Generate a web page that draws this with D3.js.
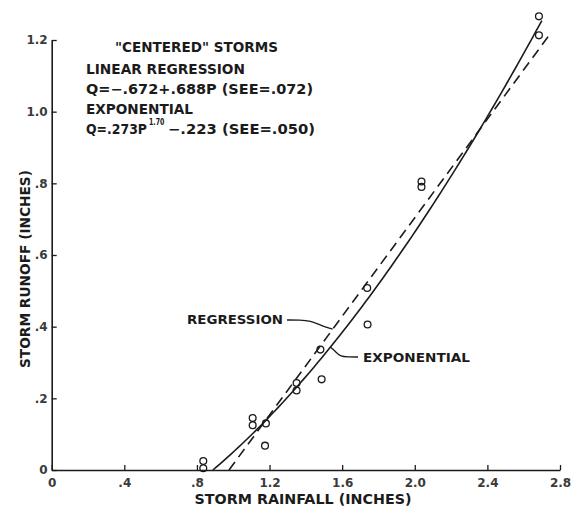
<!DOCTYPE html>
<html><head><meta charset="utf-8">
<script src="https://cdn.jsdelivr.net/npm/d3@7"></script>
<style>html,body{margin:0;padding:0;background:#fff}</style>
</head><body><svg id="chart" width="571" height="506"></svg>
<script>
// Observed storms: rainfall P and runoff Q, inches
const rainfall = [0.835, 0.835, 1.107, 1.107, 1.18, 1.175, 1.349, 1.349, 1.487, 1.48, 1.74, 1.738, 2.037, 2.037, 2.684, 2.684];
const runoff   = [0.005, 0.025, 0.125, 0.145, 0.13, 0.068, 0.222, 0.243, 0.253, 0.336, 0.406, 0.508, 0.79, 0.805, 1.213, 1.266];

const xTicks = [0, 0.4, 0.8, 1.2, 1.6, 2.0, 2.4, 2.8];
const xTickLabels = ["0", ".4", ".8", "1.2", "1.6", "2.0", "2.4", "2.8"];
const yTicks = [0, 0.2, 0.4, 0.6, 0.8, 1.0, 1.2];
const yTickLabels = ["0", ".2", ".4", ".6", ".8", "1.0", "1.2"];

// Fitted relations: Q = a + bP  and  Q = cP^k + d
const linearFit = { a: -0.672, b: 0.688, pEnd: 2.75 };
const expFit = { c: 0.273, k: 1.70, d: -0.223, pEnd: 2.70 };

const ink = "#1b1b1b";
const letterFont = "'DejaVu Sans', sans-serif";

const svg = d3.select("#chart");
svg.append("rect").attr("width", 571).attr("height", 506).attr("fill", "#fff");

const x = d3.scaleLinear().domain([0, 2.8]).range([51.7, 560]);
const y = d3.scaleLinear().domain([0, 1.2]).range([470, 40]);

// Axes with inward ticks
const xAxis = svg.append("g").attr("transform", `translate(0,${y(0)})`)
  .call(d3.axisBottom(x).tickValues(xTicks).tickSize(-5).tickSizeOuter(0).tickPadding(8)
    .tickFormat((d, i) => xTickLabels[i]));
const yAxis = svg.append("g").attr("transform", `translate(${x(0)},0)`)
  .call(d3.axisLeft(y).tickValues(yTicks).tickSize(-5).tickSizeOuter(0).tickPadding(4)
    .tickFormat((d, i) => yTickLabels[i]));
[xAxis, yAxis].forEach(g => {
  g.select(".domain").attr("stroke", ink).attr("stroke-width", 1.6);
  g.selectAll(".tick line").attr("stroke", ink).attr("stroke-width", 1.3);
  g.selectAll(".tick text").attr("fill", "#3a3a3a").attr("font-family", letterFont)
    .attr("font-size", 12).attr("font-weight", "bold");
});

// Axis titles
svg.append("text").attr("x", 303).attr("y", 504).attr("text-anchor", "middle")
  .attr("font-family", letterFont).attr("font-size", 13.5).attr("font-weight", "bold")
  .attr("fill", ink).attr("textLength", 217).attr("lengthAdjust", "spacingAndGlyphs")
  .text("STORM RAINFALL (INCHES)");
svg.append("text").attr("transform", "translate(30,269) rotate(-90)").attr("text-anchor", "middle")
  .attr("font-family", letterFont).attr("font-size", 13.5).attr("font-weight", "bold")
  .attr("fill", ink).attr("textLength", 198).attr("lengthAdjust", "spacingAndGlyphs")
  .text("STORM RUNOFF (INCHES)");

// Fitted curves
const linQ = p => linearFit.a + linearFit.b * p;
const expQ = p => expFit.c * Math.pow(p, expFit.k) + expFit.d;
const linStart = -linearFit.a / linearFit.b;
const expStart = Math.pow(-expFit.d / expFit.c, 1 / expFit.k);

const line = d3.line().x(d => x(d[0])).y(d => y(d[1]));
svg.append("path")
  .attr("d", line([linStart, linearFit.pEnd].map(p => [p, linQ(p)])))
  .attr("fill", "none").attr("stroke", ink).attr("stroke-width", 1.6)
  .attr("stroke-dasharray", "10,6");
const expPs = d3.range(expStart, expFit.pEnd, 0.02).concat([expFit.pEnd]);
svg.append("path")
  .attr("d", line(expPs.map(p => [p, expQ(p)])))
  .attr("fill", "none").attr("stroke", ink).attr("stroke-width", 1.6);

// Observations
svg.append("g").selectAll("circle").data(rainfall).join("circle")
  .attr("cx", d => x(d)).attr("cy", (d, i) => y(runoff[i])).attr("r", 3.4)
  .attr("fill", "none").attr("stroke", ink).attr("stroke-width", 1.3);

// Curve labels with leaders
const labelStyle = sel => sel.attr("font-family", letterFont).attr("font-size", 12.5)
  .attr("font-weight", "bold").attr("fill", ink).attr("lengthAdjust", "spacingAndGlyphs");
svg.append("text").attr("x", 187).attr("y", 324).attr("textLength", 96).call(labelStyle).text("REGRESSION");
svg.append("text").attr("x", 363).attr("y", 361.5).attr("textLength", 107).call(labelStyle).text("EXPONENTIAL");

const regAnchor = 1.548, expAnchor = 1.535;
const leader = d3.line().curve(d3.curveBasis);
svg.append("path")
  .attr("d", leader([[287, 320], [300, 320], [310, 320.5], [322, 326], [x(regAnchor), y(linQ(regAnchor))]]))
  .attr("fill", "none").attr("stroke", ink).attr("stroke-width", 1.3);
svg.append("path")
  .attr("d", leader([[358, 357], [348, 357], [340, 356.5], [335, 351], [x(expAnchor), y(expQ(expAnchor))]]))
  .attr("fill", "none").attr("stroke", ink).attr("stroke-width", 1.3);

// Legend block
const note = svg.append("g").attr("font-family", letterFont).attr("font-weight", "bold")
  .attr("font-size", 13.5).attr("fill", ink);
note.append("text").attr("x", 115).attr("y", 52).attr("textLength", 163)
  .attr("lengthAdjust", "spacingAndGlyphs").text("\"CENTERED\" STORMS");
note.append("text").attr("x", 86).attr("y", 74).attr("textLength", 159)
  .attr("lengthAdjust", "spacingAndGlyphs").text("LINEAR REGRESSION");
note.append("text").attr("x", 86).attr("y", 94).attr("textLength", 227)
  .attr("lengthAdjust", "spacingAndGlyphs").text("Q=−.672+.688P (SEE=.072)");
note.append("text").attr("x", 86).attr("y", 113.5).attr("textLength", 107)
  .attr("lengthAdjust", "spacingAndGlyphs").text("EXPONENTIAL");
note.append("text").attr("x", 86).attr("y", 133.5).attr("textLength", 61)
  .attr("lengthAdjust", "spacingAndGlyphs").text("Q=.273P");
note.append("text").attr("x", 149).attr("y", 124.5).attr("font-size", 8.5).attr("textLength", 15.5)
  .attr("lengthAdjust", "spacingAndGlyphs").text("1.70");
note.append("text").attr("x", 168).attr("y", 133.5).attr("textLength", 147)
  .attr("lengthAdjust", "spacingAndGlyphs").text("−.223 (SEE=.050)");
</script></body></html>
